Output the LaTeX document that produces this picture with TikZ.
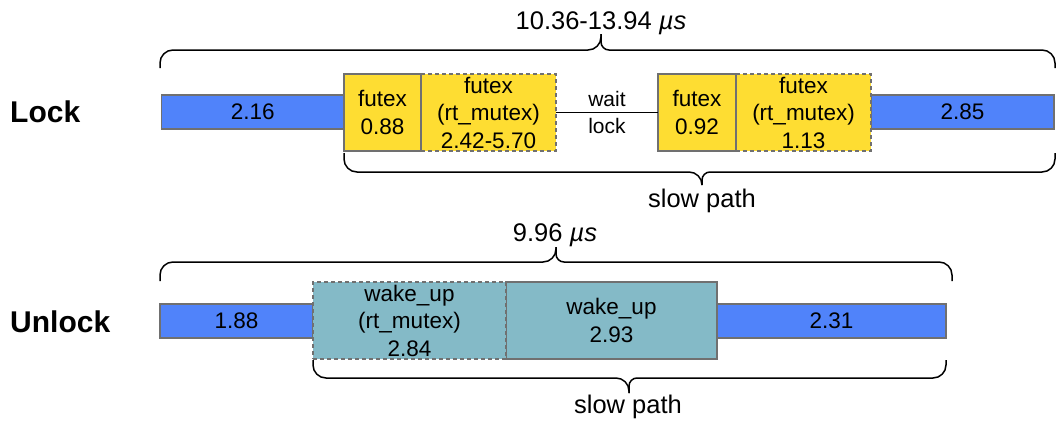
\documentclass[tikz,border=0pt]{standalone}
\usepackage{fontspec}
\setmainfont{Liberation Sans}
\definecolor{barblue}{RGB}{80,131,250}
\definecolor{futyellow}{RGB}{254,221,50}
\definecolor{waketeal}{RGB}{132,186,199}
\definecolor{edgegray}{RGB}{112,112,112}
\tikzset{
  cell/.style={draw=edgegray, line width=1.4pt, inner sep=0pt, outer sep=0pt, align=center,
    font=\fontsize{22.5}{27.5}\selectfont},
  bar/.style={cell, fill=barblue, minimum height=34pt},
  futbox/.style={cell, fill=futyellow, minimum height=77pt},
  wakebox/.style={cell, fill=waketeal, minimum height=77pt},
  dashedcell/.style={dash pattern=on 4pt off 3pt},
  brace/.style={draw=black, line width=1.5pt},
  bigtxt/.style={font=\fontsize{25.5}{30}\selectfont, inner sep=0pt, anchor=base},
  rowlabel/.style={font=\fontsize{30}{34}\bfseries\selectfont, inner sep=0pt, anchor=base west},
  conn/.style={draw=black, line width=1.4pt}
}
\begin{document}
\begin{tikzpicture}[x=1pt,y=-1pt]
\useasboundingbox (0,0) rectangle (1057,421);

% ---------- Lock ----------
\node[rowlabel] (lockl) at (10,122) {Lock};
\node[bar, minimum width=182.5pt] (b1) at (252.75,112) {2.16};
\node[bar, minimum width=183pt] (b2) at (962.5,112) {2.85};
\node[futbox, dashedcell, minimum width=135pt] (d1) at (488.5,112.5) {futex\\(rt\_mutex)\\2.42-5.70};
\node[futbox, dashedcell, minimum width=135pt] (d2) at (803.5,112.5) {futex\\(rt\_mutex)\\1.13};
\node[futbox, minimum width=77pt] (f1) at (382.5,112.5) {futex\\0.88};
\node[futbox, minimum width=78pt] (f2) at (697,112.5) {futex\\0.92};
\draw[conn] (d1.east) -- node[midway, align=center, inner sep=0pt, font=\fontsize{21}{27}\selectfont] (wl) {wait\\lock} (f2.west);

% braces lock
\draw[brace, rounded corners=13pt] (160,68) -- (160,50) -- (601,50) [rounded corners=8pt] -- (601,34);
\draw[brace, rounded corners=8pt] (601,34) -- (601,50) [rounded corners=13pt] -- (1055,50) -- (1055,68);
\node[bigtxt] (toplock) at (601,29) {10.36-13.94 \textit{µs}};

\draw[brace, rounded corners=13pt] (344,153) -- (344,172) -- (702,172) [rounded corners=8pt] -- (702,185);
\draw[brace, rounded corners=8pt] (702,185) -- (702,172) [rounded corners=13pt] -- (1055,172) -- (1055,153);
\node[bigtxt] (slowlock) at (702,207) {slow path};

% ---------- Unlock ----------
\node[rowlabel] (unlockl) at (10,332) {Unlock};
\node[bar, minimum width=153pt] (b3) at (236.5,321) {1.88};
\node[bar, minimum width=229pt] (b4) at (831.5,321) {2.31};
\node[wakebox, minimum width=211pt] (w2) at (611.5,320.5) {wake\_up\\2.93};
\node[wakebox, dashedcell, minimum width=193pt] (w1) at (409.5,320.5) {wake\_up\\(rt\_mutex)\\2.84};

\draw[brace, rounded corners=13pt] (160,281) -- (160,262) -- (556,262) [rounded corners=8pt] -- (556,247);
\draw[brace, rounded corners=8pt] (556,247) -- (556,262) [rounded corners=13pt] -- (952,262) -- (952,281);
\node[bigtxt] (topunlock) at (555,241) {9.96 \textit{µs}};

\draw[brace, rounded corners=13pt] (313,360) -- (313,378) -- (629,378) [rounded corners=8pt] -- (629,393);
\draw[brace, rounded corners=8pt] (629,393) -- (629,378) [rounded corners=13pt] -- (946,378) -- (946,360);
\node[bigtxt] (slowunlock) at (628,413) {slow path};
\end{tikzpicture}
\end{document}
